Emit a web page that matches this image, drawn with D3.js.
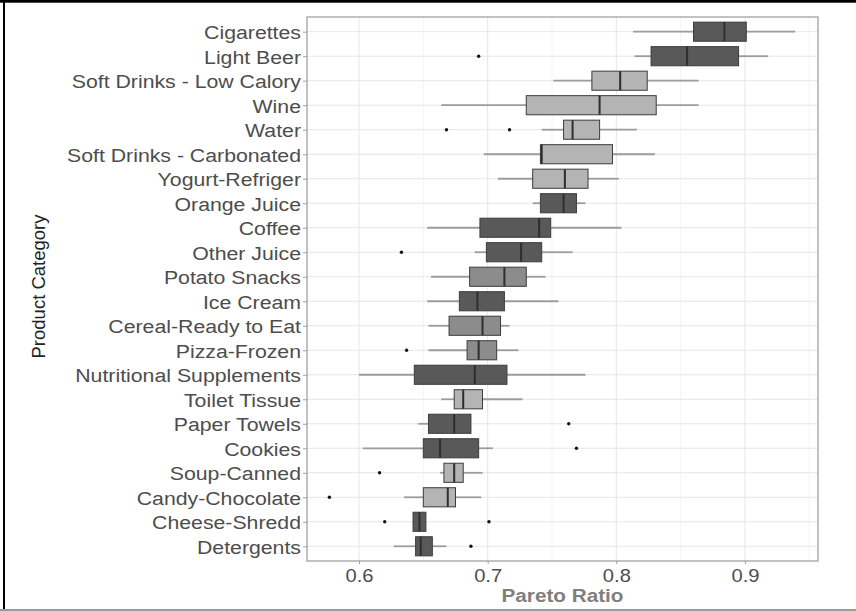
<!DOCTYPE html>
<html>
<head>
<meta charset="utf-8">
<script src="https://cdn.jsdelivr.net/npm/d3@7"></script>
<style>
  html, body { margin: 0; padding: 0; background: #fff; }
  svg { display: block; }
  text { font-family: "Liberation Sans", Arial, sans-serif; }
</style>
</head>
<body>
<svg id="chart" width="856" height="611"></svg>
<script>
const categories = ["Cigarettes","Light Beer","Soft Drinks - Low Calory","Wine","Water","Soft Drinks - Carbonated","Yogurt-Refriger","Orange Juice","Coffee","Other Juice","Potato Snacks","Ice Cream","Cereal-Ready to Eat","Pizza-Frozen","Nutritional Supplements","Toilet Tissue","Paper Towels","Cookies","Soup-Canned","Candy-Chocolate","Cheese-Shredd","Detergents"];
const whiskerLow  = [0.813,0.814,0.751,0.664,0.742,0.697,0.708,0.735,0.653,0.690,0.656,0.653,0.654,0.654,0.600,0.664,0.646,0.603,0.663,0.635,0.642,0.627];
const q1          = [0.860,0.827,0.781,0.730,0.759,0.741,0.735,0.741,0.694,0.699,0.686,0.678,0.670,0.684,0.643,0.674,0.654,0.650,0.666,0.650,0.642,0.644];
const median      = [0.884,0.855,0.803,0.787,0.766,0.742,0.760,0.759,0.740,0.726,0.713,0.692,0.696,0.693,0.690,0.681,0.674,0.663,0.674,0.669,0.647,0.648];
const q3          = [0.901,0.895,0.824,0.831,0.787,0.797,0.778,0.769,0.749,0.742,0.730,0.713,0.710,0.707,0.715,0.696,0.687,0.693,0.681,0.675,0.652,0.657];
const whiskerHigh = [0.939,0.918,0.864,0.864,0.816,0.830,0.802,0.776,0.804,0.766,0.745,0.755,0.717,0.724,0.776,0.727,0.687,0.704,0.696,0.695,0.652,0.668];
const outliers    = [[],[0.693],[],[],[0.668,0.717],[],[],[],[],[0.633],[],[],[],[0.637],[],[],[0.763],[0.769],[0.616],[0.577],[0.620,0.701],[0.687]];
const shade       = ["dark","dark","light","light","light","light","light","dark","dark","dark","medium","dark","medium","medium","dark","light","dark","dark","light","light","dark","dark"];
const xTicks = [0.6, 0.7, 0.8, 0.9];
const xMinor = [0.65, 0.75, 0.85, 0.95];

const svg = d3.select("#chart");
const W = 856, H = 611;
const panel = { left: 307, right: 818, top: 17, bottom: 561 };
const fills = { dark: "#595959", medium: "#8c8c8c", light: "#b4b4b4" };

const x = d3.scaleLinear().domain([0.55959, 0.95674]).range([panel.left, panel.right]);
const y = d3.scalePoint().domain(categories).range([panel.top, panel.bottom]).padding(0.6);
const boxH = y.step() * 0.78;

const data = categories.map((c, i) => ({
  cat: c, lo: whiskerLow[i], q1: q1[i], med: median[i], q3: q3[i], hi: whiskerHigh[i],
  out: outliers[i], shade: shade[i]
}));

// background
svg.append("rect").attr("width", W).attr("height", H).attr("fill", "#fff");

// gridlines
const grid = svg.append("g");
grid.selectAll(".minor").data(xMinor).join("line")
  .attr("x1", d => x(d)).attr("x2", d => x(d))
  .attr("y1", panel.top).attr("y2", panel.bottom)
  .attr("stroke", "#f1f1f1").attr("stroke-width", 0.8);
grid.selectAll(".major").data(xTicks).join("line")
  .attr("x1", d => x(d)).attr("x2", d => x(d))
  .attr("y1", panel.top).attr("y2", panel.bottom)
  .attr("stroke", "#e6e6e6").attr("stroke-width", 1);
grid.selectAll(".hmajor").data(categories).join("line")
  .attr("x1", panel.left).attr("x2", panel.right)
  .attr("y1", d => y(d)).attr("y2", d => y(d))
  .attr("stroke", "#e6e6e6").attr("stroke-width", 1);

// boxplots
const g = svg.append("g");
const rows = g.selectAll("g.row").data(data).join("g").attr("class", "row");
rows.append("line")
  .attr("x1", d => x(d.lo)).attr("x2", d => x(d.q1))
  .attr("y1", d => y(d.cat)).attr("y2", d => y(d.cat))
  .attr("stroke", "#9c9c9c").attr("stroke-width", 1.8);
rows.append("line")
  .attr("x1", d => x(d.q3)).attr("x2", d => x(d.hi))
  .attr("y1", d => y(d.cat)).attr("y2", d => y(d.cat))
  .attr("stroke", "#9c9c9c").attr("stroke-width", 1.8);
rows.append("rect")
  .attr("x", d => x(d.q1)).attr("width", d => x(d.q3) - x(d.q1))
  .attr("y", d => y(d.cat) - boxH / 2).attr("height", boxH)
  .attr("fill", d => fills[d.shade])
  .attr("stroke", "#3c3c3c").attr("stroke-width", 1);
rows.append("line")
  .attr("x1", d => x(d.med)).attr("x2", d => x(d.med))
  .attr("y1", d => y(d.cat) - boxH / 2).attr("y2", d => y(d.cat) + boxH / 2)
  .attr("stroke", "#2e2e2e").attr("stroke-width", 2);
rows.selectAll("circle").data(d => d.out.map(v => ({ v, cat: d.cat }))).join("circle")
  .attr("cx", d => x(d.v)).attr("cy", d => y(d.cat)).attr("r", 1.7)
  .attr("fill", "#111");

// panel border
svg.append("rect")
  .attr("x", panel.left).attr("y", panel.top)
  .attr("width", panel.right - panel.left).attr("height", panel.bottom - panel.top)
  .attr("fill", "none").attr("stroke", "#9a9a9a").attr("stroke-width", 1.2);

// y axis
const yAxis = svg.append("g").attr("transform", `translate(${panel.left},0)`)
  .call(d3.axisLeft(y).tickSize(4).tickPadding(2));
yAxis.select(".domain").remove();
yAxis.selectAll(".tick line").attr("stroke", "#a0a0a0");
yAxis.selectAll(".tick text")
  .attr("fill", "#4d4d4d").style("font-size", "19px")
  .attr("dy", "0.36em")
  .attr("transform", "scale(1.12,1)")
  .attr("x", -6 / 1.12);

// x axis
const xAxis = svg.append("g").attr("transform", `translate(0,${panel.bottom})`)
  .call(d3.axisBottom(x).tickValues(xTicks).tickFormat(d3.format(".1f")).tickSize(3).tickPadding(2));
xAxis.select(".domain").remove();
xAxis.selectAll(".tick line").attr("stroke", "#a0a0a0");
xAxis.selectAll(".tick text")
  .attr("fill", "#4d4d4d").style("font-size", "18px")
  .attr("dy", null).attr("y", 21)
  .attr("transform", "scale(1.12,1)");

// axis titles
svg.append("text")
  .attr("transform", `translate(${(panel.left + panel.right) / 2},601.5) scale(1.12,1)`)
  .attr("text-anchor", "middle").attr("fill", "#7f7f7f")
  .style("font-size", "18.5px").style("font-weight", "bold")
  .text("Pareto Ratio");
svg.append("text")
  .attr("transform", `translate(45,286.5) rotate(-90)`)
  .attr("text-anchor", "middle").attr("fill", "#222")
  .style("font-size", "18.5px")
  .text("Product Category");

// outer frame
svg.append("rect").attr("x", 0).attr("y", 0).attr("width", W).attr("height", 2.7).attr("fill", "#000");
svg.append("rect").attr("x", 3).attr("y", 0).attr("width", 2).attr("height", H).attr("fill", "#000");
svg.append("rect").attr("x", 0).attr("y", 609).attr("width", W).attr("height", 2).attr("fill", "#9a9a9a");
</script>
</body>
</html>
